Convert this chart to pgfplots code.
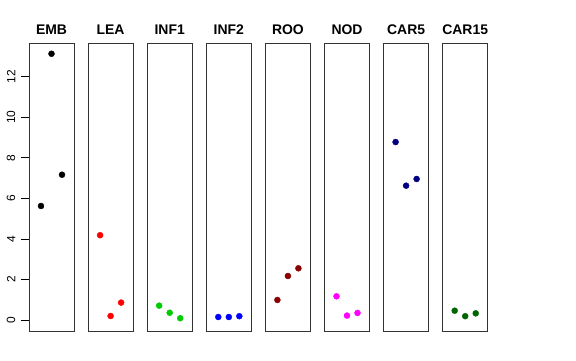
\documentclass[border=0pt]{standalone}
\usepackage{pgfplots}
\pgfplotsset{compat=1.18}
\usepackage{fontspec}
\setmainfont{Liberation Sans}
\definecolor{cgreen}{RGB}{0,205,0}
\definecolor{cdarkred}{RGB}{139,0,0}
\definecolor{cnavy}{RGB}{0,0,128}
\definecolor{cdarkgreen}{RGB}{0,100,0}
\definecolor{cmagenta}{RGB}{255,0,255}
\pgfplotsset{panel/.style={width=45bp,height=288bp,scale only axis,
  xmin=-0.14,xmax=4.14,ymin=-0.53,ymax=13.66,
  xtick=\empty,ytick=\empty,
  axis line style={black!80,line width=0.8bp},
  clip=false, anchor=south west,
  title style={font=\bfseries\fontsize{14}{14}\selectfont,at={(0.5,1)},anchor=base,yshift=2.7bp,inner sep=0pt}},
  dots/.style={only marks,mark=*,mark size=3bp}}
\begin{document}
\begin{tikzpicture}[x=1bp,y=1bp]
\fill[white] (0,0) rectangle (576,360);
\begin{axis}[panel,at={(29bp,29bp)},title={EMB},
  ytick={0,2,4,6,8,10,12},ytick pos=left,tick align=outside,major tick length=8bp,
  tick style={black,line width=0.8bp},
  yticklabel style={rotate=90,anchor=south,inner sep=5.5bp,font=\fontsize{12}{12}\selectfont},
  /pgf/number format/assume math mode=true]
\addplot[dots,black] coordinates {(1,5.63)(2,13.13)(3,7.17)};
\end{axis}
\begin{axis}[panel,at={(88.1bp,29bp)},title={LEA}]
\addplot[dots,red] coordinates {(1,4.19)(2,0.21)(3,0.87)};
\end{axis}
\begin{axis}[panel,at={(147.2bp,29bp)},title={INF1}]
\addplot[dots,cgreen] coordinates {(1,0.72)(2,0.37)(3,0.10)};
\end{axis}
\begin{axis}[panel,at={(206.3bp,29bp)},title={INF2}]
\addplot[dots,blue] coordinates {(1,0.16)(2,0.16)(3,0.20)};
\end{axis}
\begin{axis}[panel,at={(265.4bp,29bp)},title={ROO}]
\addplot[dots,cdarkred] coordinates {(1,1.00)(2,2.18)(3,2.56)};
\end{axis}
\begin{axis}[panel,at={(324.5bp,29bp)},title={NOD}]
\addplot[dots,cmagenta] coordinates {(1,1.18)(2,0.23)(3,0.36)};
\end{axis}
\begin{axis}[panel,at={(383.6bp,29bp)},title={CAR5}]
\addplot[dots,cnavy] coordinates {(1,8.78)(2,6.63)(3,6.96)};
\end{axis}
\begin{axis}[panel,at={(442.7bp,29bp)},title={CAR15}]
\addplot[dots,cdarkgreen] coordinates {(1,0.47)(2,0.20)(3,0.34)};
\end{axis}
\end{tikzpicture}
\end{document}
